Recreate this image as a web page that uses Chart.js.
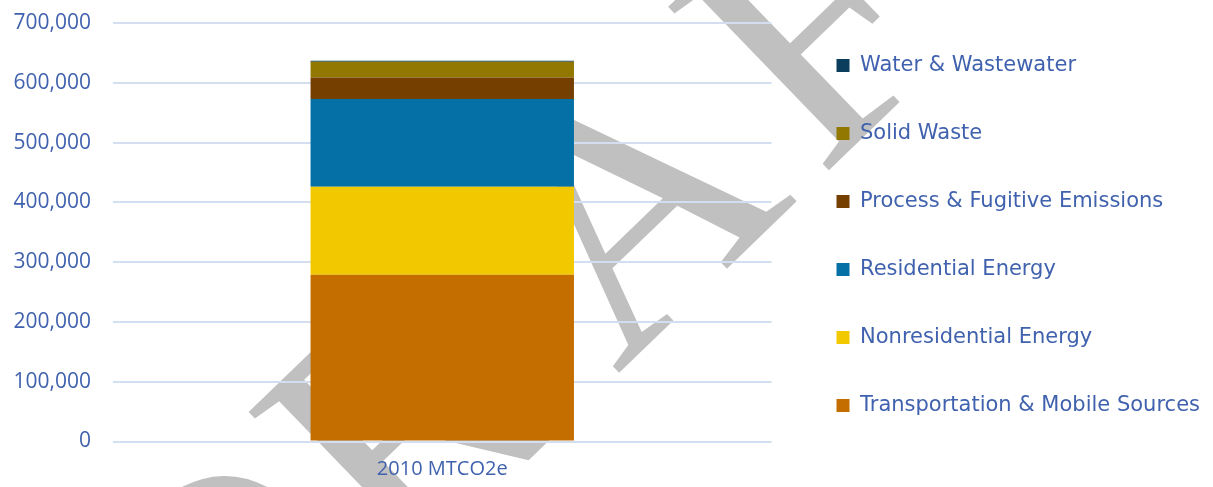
<!DOCTYPE html>
<html>
<head>
<meta charset="utf-8">
<script src="https://cdn.jsdelivr.net/npm/chart.js@4/dist/chart.umd.min.js"></script>
<style>
  html, body { margin: 0; padding: 0; background: #ffffff; }
  #wrap { width: 1213px; height: 487px; position: relative; }
</style>
</head>
<body>
<div id="wrap"><canvas id="c" width="1213" height="487"></canvas></div>
<script>
// ---- data ----
const categories = ['2010 MTCO2e'];
const seriesNames = [
  'Transportation & Mobile Sources',
  'Nonresidential Energy',
  'Residential Energy',
  'Process & Fugitive Emissions',
  'Solid Waste',
  'Water & Wastewater'
];
const transportation = [279000];
const nonresidential = [147000];
const residential = [147000];
const processFugitive = [36000];
const solidWaste = [26000];
const waterWastewater = [2000];
const yTicks = [0, 100000, 200000, 300000, 400000, 500000, 600000, 700000];
const watermarkText = 'DRAFT';

// ---- styles ----
const colors = ['#C46E00', '#F2C900', '#0570A5', '#753F00', '#927800', '#0B3D5C'];
const textBlue = '#4062AE';
const seriesValues = [transportation, nonresidential, residential, processFugitive, solidWaste, waterWastewater];

const datasets = seriesNames.map((name, i) => ({
  label: name,
  data: seriesValues[i],
  backgroundColor: colors[i],
  borderWidth: 0,
  barPercentage: 0.4,
  categoryPercentage: 1.0,
  yAxisID: 'y'
}));

// watermark letter gaps (style only)
const wmGaps = [8, 67, 30, 40];
const watermark = {
  id: 'watermark',
  beforeDraw(chart) {
    const ctx = chart.ctx;
    ctx.save();
    ctx.translate(213, 765);
    ctx.rotate(-44 * Math.PI / 180);
    ctx.font = '350px "Liberation Serif"';
    ctx.fillStyle = '#C0C0C0';
    ctx.textAlign = 'left';
    ctx.textBaseline = 'alphabetic';
    let x = 0;
    [...watermarkText].forEach((ch, i) => {
      ctx.fillText(ch, x, 0);
      x += ctx.measureText(ch).width + (wmGaps[i] || 0);
    });
    ctx.restore();
  }
};

new Chart(document.getElementById('c'), {
  type: 'bar',
  data: { labels: categories, datasets },
  plugins: [watermark],
  options: {
    responsive: false,
    animation: false,
    layout: { padding: { top: 8, left: 13, right: 3, bottom: 4 } },
    scales: {
      x: {
        stacked: true,
        grid: { display: false, drawTicks: false },
        border: { display: false },
        ticks: { color: textBlue, padding: 16, font: { family: '"Open Sans"', size: 20 } },
        afterFit(s) { s.height = 41.5; s.paddingLeft = 0; s.paddingRight = 0; }
      },
      y: {
        stacked: true,
        min: 0,
        max: 700000,
        afterBuildTicks(scale) { scale.ticks = yTicks.map(v => ({ value: v })); },
        grid: { color: '#D3DEF0', lineWidth: 2, drawTicks: false },
        border: { display: false },
        ticks: {
          color: textBlue,
          padding: 22,
          font: { family: '"Open Sans"', size: 21 },
          callback: v => Number(v).toLocaleString('en-US')
        },
        afterFit(s) { s.width = 100; s.paddingTop = 0; s.paddingBottom = 0; }
      },
      yPad: {
        type: 'linear',
        position: 'right',
        display: true,
        grid: { display: false, drawTicks: false },
        border: { display: false },
        ticks: { display: false },
        afterFit(s) { s.width = 18; s.paddingTop = 0; s.paddingBottom = 0; }
      }
    },
    plugins: {
      title: { display: true, text: '', fullSize: false, padding: 0, font: { size: 12.5 } },
      tooltip: { enabled: false },
      legend: {
        position: 'right',
        align: 'start',
        reverse: true,
        maxWidth: 700,
        labels: {
          boxWidth: 13,
          boxHeight: 13,
          padding: 47,
          color: textBlue,
          font: { family: '"DejaVu Sans"', size: 21 }
        }
      }
    }
  }
});
</script>
</body>
</html>
